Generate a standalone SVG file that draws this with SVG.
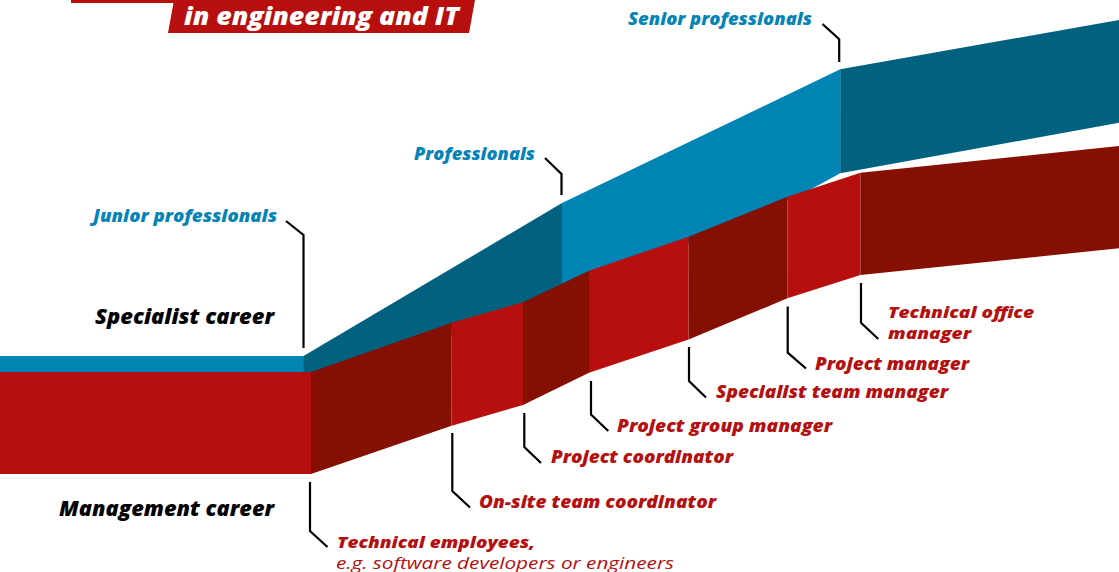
<svg xmlns="http://www.w3.org/2000/svg" width="1119" height="572" viewBox="0 0 1119 572">
<style>
.lb{fill:#0084b4}.db{fill:#02617f}.lr{fill:#b70e0e}.dr{fill:#850f01}
text{font-family:"Open Sans","Noto Sans","Liberation Sans",sans-serif;font-style:italic;font-weight:800}
.tb{fill:#0484b6;font-size:18px}
.tk{fill:#000;font-size:21.5px}
.tr{fill:#b3100f;font-size:18px}
.t2{fill:#b3100f;font-size:16.5px}
.tl{fill:#b3100f;font-size:16.5px;font-weight:400}
.th{fill:#fff;font-size:24px}
.ld{fill:none;stroke:#000;stroke-width:2.2}
</style>
<rect width="1119" height="572" fill="#fff"/>
<g id="header">
<rect x="71" y="0" width="103" height="3" class="lr"/>
<polygon points="174,0 475,0 469,33 168,33" class="lr"/>
<text x="184" y="25" class="th" textLength="275" lengthAdjust="spacingAndGlyphs">in engineering and IT</text>
</g>
<g id="specialist-track">
<rect x="0" y="356" width="304" height="16" class="lb"/>
<polygon points="303.5,356 562,203 562,300 311,380 303.5,372" class="db"/>
<polygon points="562,203 840.2,69.3 840.2,173.3 805,192.5 562,300" class="lb"/>
<polygon points="840.2,69.3 1119,20 1119,122.7 840.2,173.3" class="db"/>
</g>
<g id="management-track">
<rect x="0" y="372" width="311" height="102" class="lr"/>
<polygon points="311,372 451.6,322.7 451.6,425.7 311,474" class="dr"/>
<polygon points="451.6,322.7 523,302.3 523,405 451.6,425.7" class="lr"/>
<polygon points="523,302.3 589,270.7 589,372.7 523,405" class="dr"/>
<polygon points="589,270.7 688.6,236.7 688.6,339.5 589,372.7" class="lr"/>
<polygon points="688.6,236.7 787.4,196.7 787.4,298.3 688.6,339.5" class="dr"/>
<polygon points="787.4,196.7 860.5,172.7 860.5,275 787.4,298.3" class="lr"/>
<polygon points="860.5,172.7 1119,146 1119,248.3 860.5,275" class="dr"/>
</g>
<g id="connectors">
<polyline class="ld" points="286,221 303.5,235 303.5,348"/>
<polyline class="ld" points="545,158 561.5,174 561.5,195"/>
<polyline class="ld" points="822.5,24 839.2,39.3 839.2,62"/>
<polyline class="ld" points="310,482 310,531 327.5,547"/>
<polyline class="ld" points="452.3,433 452.3,491 470,507.5"/>
<polyline class="ld" points="524.3,413 524.3,447 541,463"/>
<polyline class="ld" points="591,381 591,414.5 608.3,431"/>
<polyline class="ld" points="689,347 689,381 706,397.5"/>
<polyline class="ld" points="787.7,306.5 787.7,352.7 806,368.5"/>
<polyline class="ld" points="861,283 861,322.7 878.3,339"/>
</g>
<g id="label-junior"><text x="93" y="222" class="tb" textLength="184" lengthAdjust="spacingAndGlyphs">Junior professionals</text></g>
<g id="label-professionals"><text x="414" y="160" class="tb" textLength="121" lengthAdjust="spacingAndGlyphs">Professionals</text></g>
<g id="label-senior"><text x="628" y="25" class="tb" textLength="184" lengthAdjust="spacingAndGlyphs">Senior professionals</text></g>
<g id="label-specialist"><text x="95" y="324" class="tk" textLength="179" lengthAdjust="spacingAndGlyphs">Specialist career</text></g>
<g id="label-management"><text x="59" y="516" class="tk" textLength="215" lengthAdjust="spacingAndGlyphs">Management career</text></g>
<g id="label-technical-employees">
<text x="337" y="548" class="t2" textLength="198" lengthAdjust="spacingAndGlyphs">Technical employees,</text>
<text x="336" y="569" class="tl" textLength="338" lengthAdjust="spacingAndGlyphs">e.g. software developers or engineers</text>
</g>
<g id="label-onsite"><text x="479" y="508" class="tr" textLength="237" lengthAdjust="spacingAndGlyphs">On-site team coordinator</text></g>
<g id="label-project-coordinator"><text x="551" y="463" class="tr" textLength="182" lengthAdjust="spacingAndGlyphs">Project coordinator</text></g>
<g id="label-project-group"><text x="617" y="432" class="tr" textLength="215" lengthAdjust="spacingAndGlyphs">Project group manager</text></g>
<g id="label-specialist-team"><text x="716" y="398" class="tr" textLength="232" lengthAdjust="spacingAndGlyphs">Specialist team manager</text></g>
<g id="label-project-manager"><text x="815" y="370" class="tr" textLength="154" lengthAdjust="spacingAndGlyphs">Project manager</text></g>
<g id="label-technical-office">
<text x="888" y="318" class="t2" textLength="146" lengthAdjust="spacingAndGlyphs">Technical office</text>
<text x="888" y="339" class="t2" textLength="83" lengthAdjust="spacingAndGlyphs">manager</text>
</g>
</svg>
